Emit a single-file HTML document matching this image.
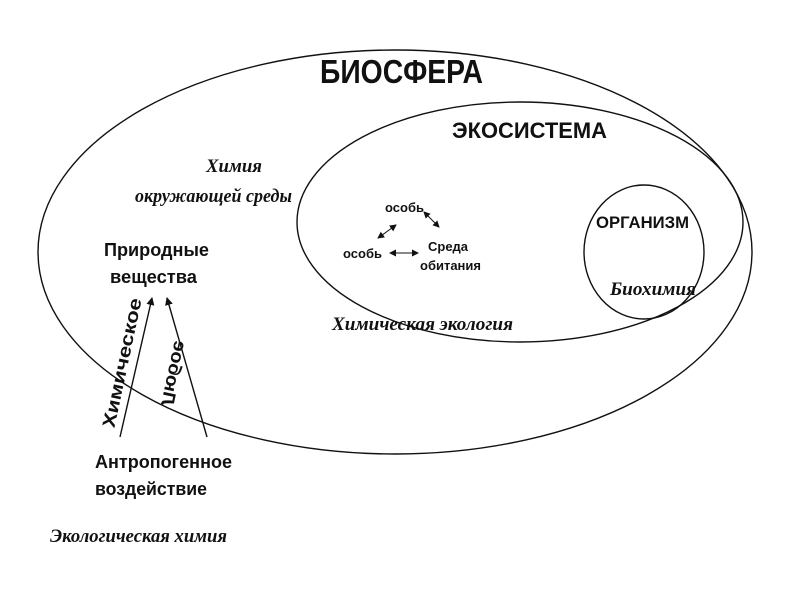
<!DOCTYPE html>
<html><head><meta charset="utf-8"><style>
body{margin:0;background:#fff}
svg{display:block}
.b{font-family:"Liberation Sans",sans-serif;font-weight:bold;fill:#111}
.i{font-family:"Liberation Serif",serif;font-style:italic;font-weight:bold;fill:#111}
</style></head><body>
<svg width="800" height="600" viewBox="0 0 800 600">
<defs><marker id="a" markerWidth="8" markerHeight="8" refX="7" refY="4" orient="auto" markerUnits="userSpaceOnUse"><path d="M0,0 L8,4 L0,8 Z" fill="#111"/></marker>
<marker id="s" markerWidth="7" markerHeight="7" refX="6" refY="3.5" orient="auto-start-reverse" markerUnits="userSpaceOnUse"><path d="M0,0 L7,3.5 L0,7 Z" fill="#111"/></marker></defs>
<g fill="none" stroke="#111" stroke-width="1.4">
<ellipse cx="395" cy="252" rx="357" ry="202"/>
<ellipse cx="520" cy="222" rx="223" ry="120"/>
<ellipse cx="644" cy="252" rx="60" ry="67"/>
<line x1="120" y1="437" x2="152" y2="298" marker-end="url(#a)"/>
<line x1="207" y1="437" x2="167" y2="298" marker-end="url(#a)"/>
<line x1="396" y1="225" x2="378" y2="238" stroke-width="1" marker-start="url(#s)" marker-end="url(#s)"/>
<line x1="424" y1="212" x2="439" y2="227" stroke-width="1" marker-start="url(#s)" marker-end="url(#s)"/>
<line x1="390" y1="253" x2="418" y2="253" stroke-width="1" marker-start="url(#s)" marker-end="url(#s)"/>
</g>
<text class="b" x="320" y="83" font-size="33" textLength="163" lengthAdjust="spacingAndGlyphs">БИОСФЕРА</text>
<text class="b" x="452" y="138" font-size="22" textLength="155" lengthAdjust="spacingAndGlyphs">ЭКОСИСТЕМА</text>
<text class="b" x="596" y="228" font-size="17" textLength="93" lengthAdjust="spacingAndGlyphs">ОРГАНИЗМ</text>
<text class="b" x="385" y="212" font-size="13">особь</text>
<text class="b" x="343" y="258" font-size="13">особь</text>
<text class="b" x="428" y="251" font-size="13">Среда</text>
<text class="b" x="420" y="270" font-size="13">обитания</text>
<text class="b" x="104" y="256" font-size="18" textLength="105" lengthAdjust="spacingAndGlyphs">Природные</text>
<text class="b" x="110" y="283" font-size="18" textLength="87" lengthAdjust="spacingAndGlyphs">вещества</text>
<text class="b" x="95" y="468" font-size="18" textLength="137" lengthAdjust="spacingAndGlyphs">Антропогенное</text>
<text class="b" x="95" y="495" font-size="18" textLength="112" lengthAdjust="spacingAndGlyphs">воздействие</text>
<g transform="translate(128,364) rotate(-78)"><text class="b" x="-66" y="0" font-size="18" textLength="132" lengthAdjust="spacingAndGlyphs">Химическое</text></g>
<g transform="translate(168,372) rotate(-78) scale(1,-1)"><text class="b" x="-33" y="0" font-size="18" textLength="66" lengthAdjust="spacingAndGlyphs">Любое</text></g>
<text class="i" x="206" y="172" font-size="19" textLength="56" lengthAdjust="spacingAndGlyphs">Химия</text>
<text class="i" x="135" y="202" font-size="19" textLength="157" lengthAdjust="spacingAndGlyphs">окружающей среды</text>
<text class="i" x="332" y="330" font-size="19" textLength="181" lengthAdjust="spacingAndGlyphs">Химическая экология</text>
<text class="i" x="610" y="295" font-size="19" textLength="86" lengthAdjust="spacingAndGlyphs">Биохимия</text>
<text class="i" x="50" y="542" font-size="19" textLength="177" lengthAdjust="spacingAndGlyphs">Экологическая химия</text>
</svg>
</body></html>
